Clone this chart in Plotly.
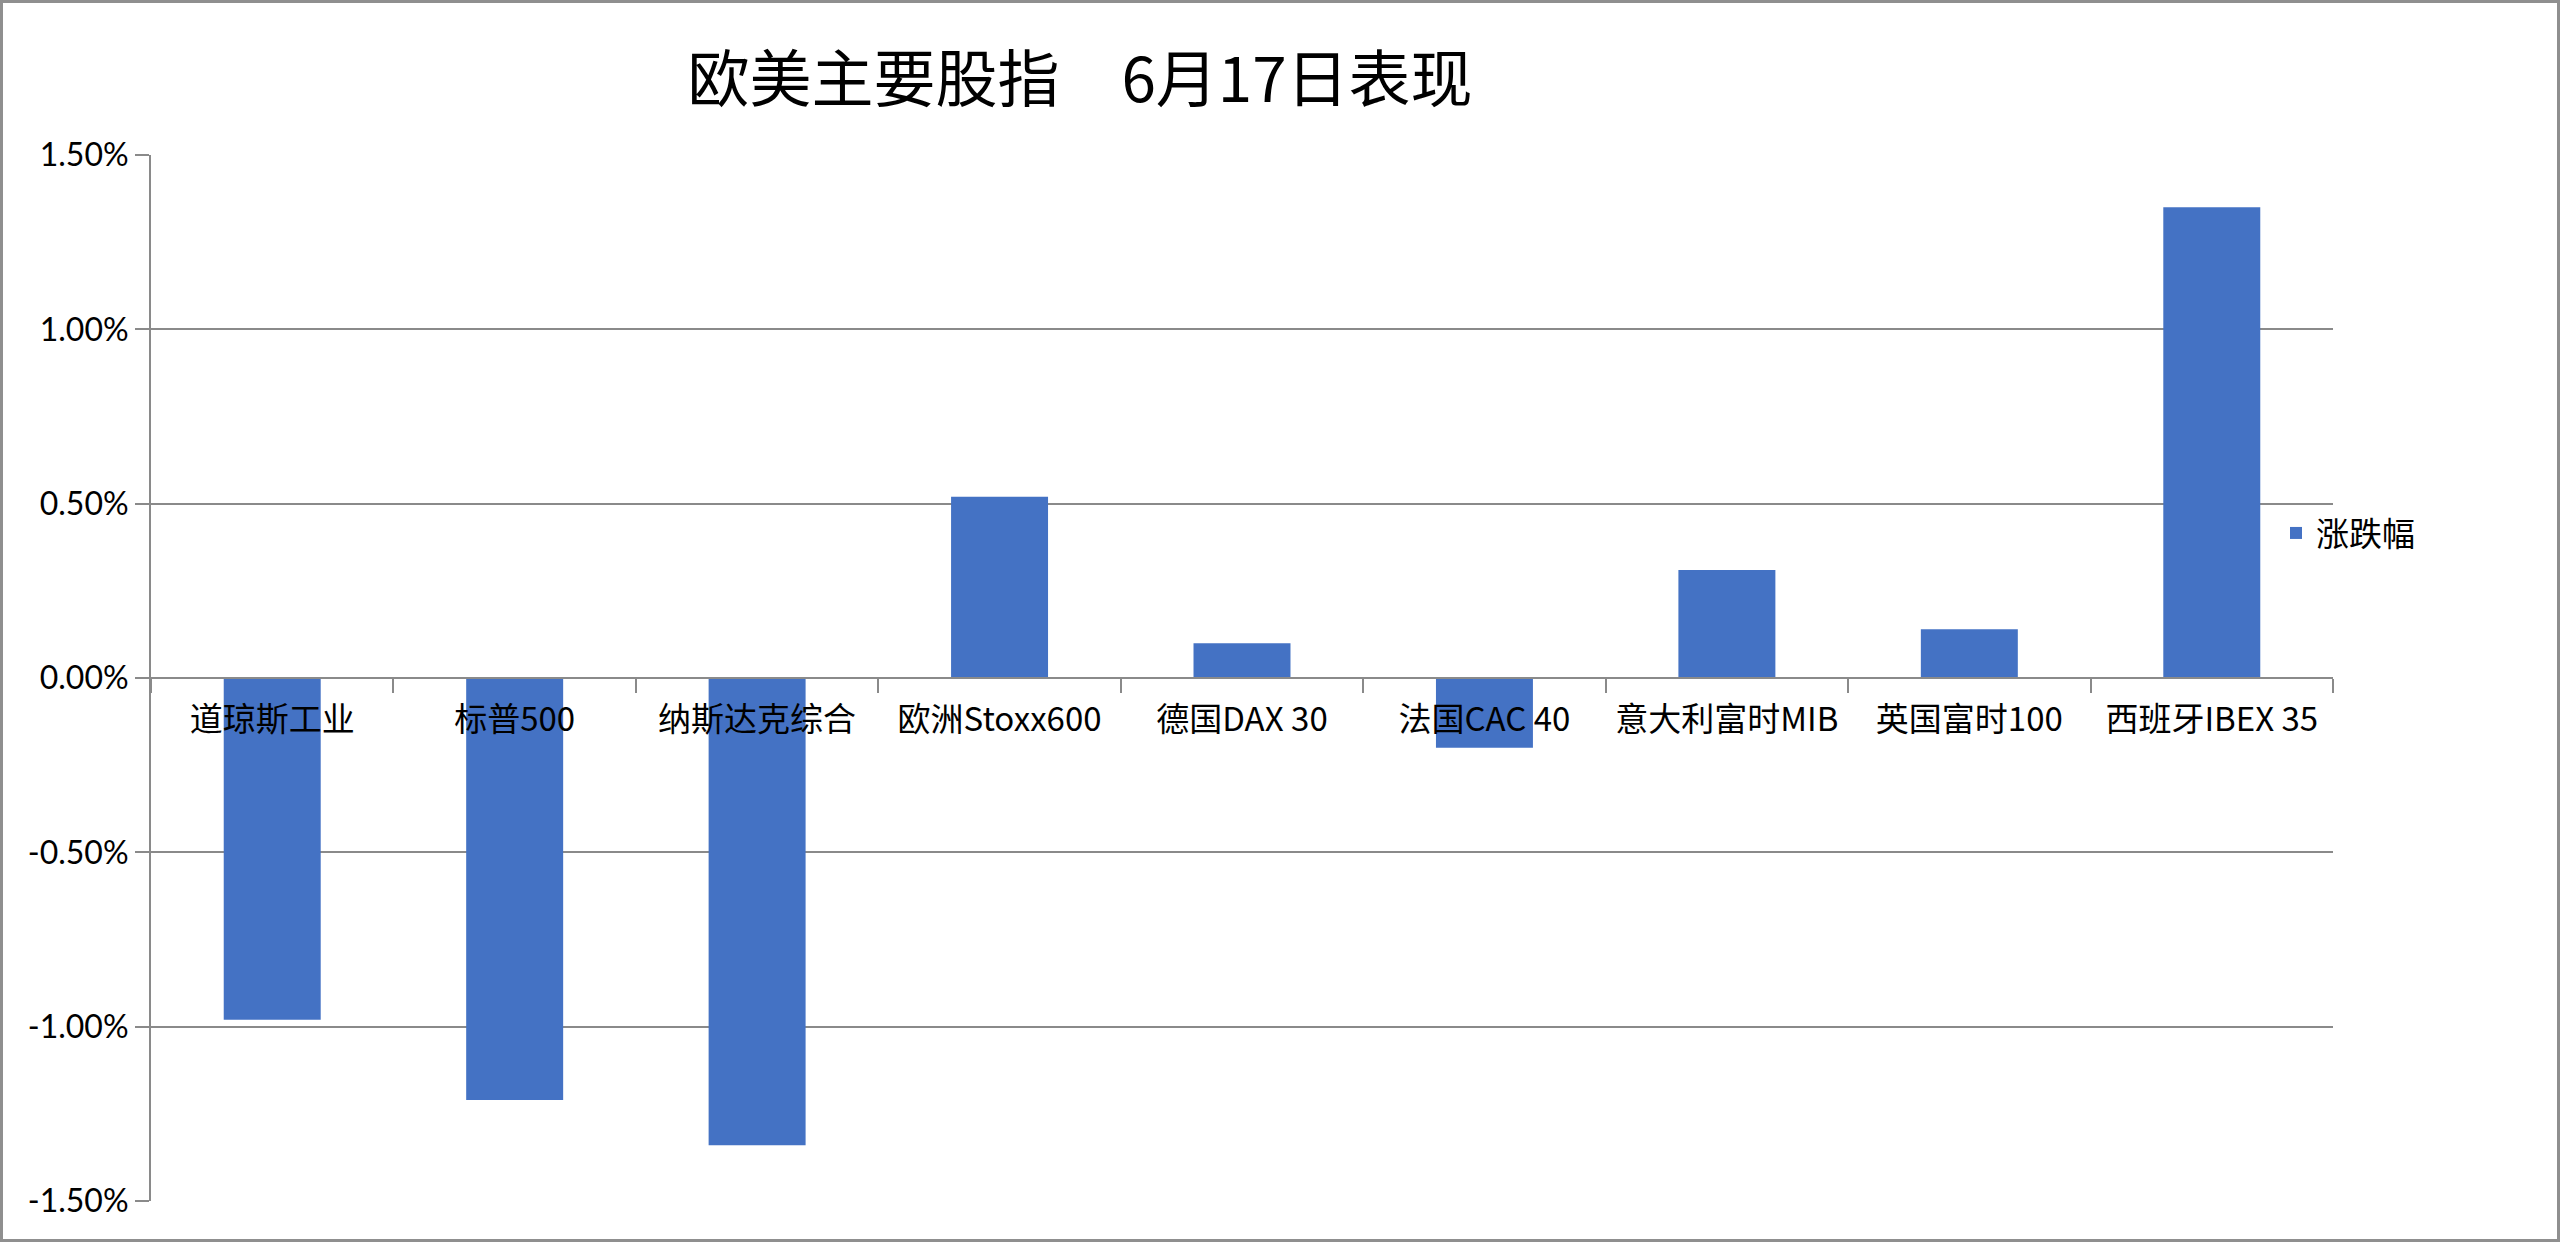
import plotly.graph_objects as go

categories = ["道琼斯工业", "标普500", "纳斯达克综合", "欧洲Stoxx600", "德国DAX 30",
              "法国CAC 40", "意大利富时MIB", "英国富时100", "西班牙IBEX 35"]
changes = [-0.0098, -0.0121, -0.0134, 0.0052, 0.0010, -0.0020, 0.0031, 0.0014, 0.0135]
series_name = "涨跌幅"
y_tick_values = [-0.015, -0.010, -0.005, 0.0, 0.005, 0.010, 0.015]
y_tick_labels = ["-1.50%", "-1.00%", "-0.50%", "0.00%", "0.50%", "1.00%", "1.50%"]
title_text = "欧美主要股指　6月17日表现"

W, H = 2560, 1242
L, R, T, B = 151, 227, 155, 41
pw, ph = W - L - R, H - T - B

GRID = "#8a8a8a"
CJK = "Noto Sans CJK SC"

fig = go.Figure()
fig.add_trace(go.Bar(
    x=categories, y=changes, name=series_name,
    marker=dict(color="#4472C4", line=dict(width=0)),
    width=0.4, showlegend=True,
))

# outer chart border (in paper coordinates of plot area)
fig.add_shape(type="rect", xref="paper", yref="paper",
              x0=(1.5 - L) / pw, x1=(W - 1.5 - L) / pw,
              y0=(H - B - (H - 1.5)) / ph, y1=(H - B - 1.5) / ph,
              line=dict(color="#8f8f8f", width=3), fillcolor="rgba(0,0,0,0)", layer="below")

fig.update_layout(
    width=W, height=H,
    margin=dict(l=L, r=R, t=T, b=B),
    paper_bgcolor="white", plot_bgcolor="white",
    title=dict(text=title_text, xref="container", yref="container",
               x=1080 / W, y=1 - 80 / H, xanchor="center", yanchor="middle",
               font=dict(family=CJK, size=62, color="black")),
    legend=dict(x=(2276 - L) / pw, y=(H - B - 533) / ph, xanchor="left", yanchor="middle",
                font=dict(family=CJK, size=33, color="black"),
                bgcolor="rgba(0,0,0,0)", itemclick=False),
    bargap=0.6,
)

fig.update_xaxes(
    type="category", range=[-0.5, len(categories) - 0.5],
    anchor="free", position=0.5,
    showline=True, linecolor=GRID, linewidth=2,
    ticks="outside", tickson="boundaries", ticklen=14, tickwidth=2, tickcolor=GRID,
    ticklabelstandoff=12,
    tickfont=dict(family=CJK, size=33, color="black"),
    showgrid=False, zeroline=False, tickangle=0,
)
fig.update_yaxes(
    range=[-0.015, 0.015], tickvals=y_tick_values, ticktext=y_tick_labels,
    showline=True, linecolor=GRID, linewidth=2,
    ticks="outside", ticklen=14, tickwidth=2, tickcolor=GRID,
    showgrid=True, gridcolor=GRID, gridwidth=2,
    zeroline=False,
    tickfont=dict(family="Lato", size=32, color="black"),
)

fig.write_html("out.html")
